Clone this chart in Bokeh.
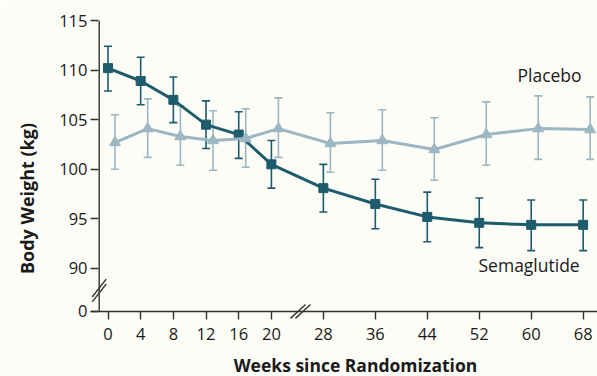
from bokeh.plotting import figure
from bokeh.models import (ColumnDataSource, Whisker, TeeHead, FixedTicker, Label,
                          Range1d)
from bokeh.embed import file_html
from bokeh.resources import INLINE

# ---------------- data ----------------
weeks = [0, 4, 8, 12, 16, 20, 28, 36, 44, 52, 60, 68]
sema_mean = [110.2, 108.9, 107.0, 104.5, 103.5, 100.5, 98.1, 96.5, 95.2, 94.6, 94.4, 94.4]
sema_upper = [112.4, 111.3, 109.3, 106.9, 105.8, 102.9, 100.5, 99.0, 97.7, 97.1, 96.9, 96.9]
sema_lower = [107.9, 106.5, 104.7, 102.1, 101.1, 98.1, 95.7, 94.0, 92.7, 92.1, 91.8, 91.8]
placebo_mean = [102.7, 104.1, 103.3, 102.9, 103.1, 104.1, 102.6, 102.9, 102.0, 103.5, 104.1, 104.0]
placebo_upper = [105.5, 107.1, 106.4, 105.9, 106.1, 107.2, 105.7, 106.0, 105.2, 106.8, 107.4, 107.3]
placebo_lower = [100.0, 101.2, 100.4, 99.9, 100.2, 101.2, 99.7, 99.9, 98.9, 100.4, 101.0, 101.0]
y_ticks = [90, 95, 100, 105, 110, 115]

SEMA_COLOR = "#1e5b6d"
PLAC_COLOR = "#9cb6c2"
BG = "#fdfdf7"
AXIS = "#333333"
TEXT = "#1a1a1a"
FONT = "Open Sans"

# broken x axis: after week 20 the scale is compressed
def axis_pos(w):
    return w if w <= 20 else 20 + (w - 20) * 0.795

DODGE = 0.857     # placebo points sit slightly to the right
Y_ZERO = 85.67    # position of the "0" tick below the y-axis break
X_AXIS = -1.077   # where the y-axis line is drawn
X_START, X_END = -2.142, 59.914
Y_START, Y_END = 79.11, 115

sema_src = ColumnDataSource(dict(
    x=[axis_pos(w) for w in weeks], y=sema_mean, upper=sema_upper, lower=sema_lower))
plac_src = ColumnDataSource(dict(
    x=[axis_pos(w) + DODGE for w in weeks], y=placebo_mean,
    upper=placebo_upper, lower=placebo_lower))

p = figure(width=597, height=376, output_backend="svg", toolbar_location=None,
           x_range=Range1d(X_START, X_END), y_range=Range1d(Y_START, Y_END),
           min_border_left=90, min_border_right=0, min_border_top=20,
           min_border_bottom=0)
p.background_fill_color = BG
p.border_fill_color = BG
p.outline_line_color = None
p.grid.visible = False

# x axis sits on the zero line, y-axis ticks point into the frame
p.xaxis.fixed_location = Y_ZERO
p.xaxis.ticker = FixedTicker(ticks=[axis_pos(w) for w in weeks])
p.xaxis.major_label_overrides = {axis_pos(w): str(w) for w in weeks}
p.xaxis.major_tick_in = 0
p.xaxis.major_tick_out = 8
p.yaxis.ticker = FixedTicker(ticks=[Y_ZERO] + y_ticks)
p.yaxis.major_label_overrides = {Y_ZERO: "0"}
p.yaxis.major_tick_in = 8
p.yaxis.major_tick_out = 0
for ax in (p.xaxis, p.yaxis):
    ax.axis_line_color = None
    ax.major_tick_line_color = AXIS
    ax.major_tick_line_width = 1.4
    ax.minor_tick_line_color = None
    ax.major_label_text_font = FONT
    ax.major_label_text_font_size = "16.5px"
    ax.major_label_text_color = TEXT
p.xaxis.major_label_standoff = 9
p.yaxis.major_label_standoff = 3
p.yaxis.axis_label = "Body Weight (kg)"
p.yaxis.axis_label_text_font = FONT
p.yaxis.axis_label_text_font_style = "bold"
p.yaxis.axis_label_text_font_size = "18px"
p.yaxis.axis_label_text_color = TEXT
p.yaxis.axis_label_standoff = 17

p.add_layout(Label(x=30.29, y=80.27, text="Weeks since Randomization",
                   text_align="center", text_baseline="alphabetic", text_font=FONT,
                   text_font_style="bold", text_font_size="17.5px", text_color=TEXT))

# axis lines
p.segment(x0=[X_AXIS, X_START], y0=[Y_ZERO, Y_ZERO], x1=[X_AXIS, X_END],
          y1=[Y_END, Y_ZERO], line_color=AXIS, line_width=1.4)

# axis break marks
p.segment(x0=[X_AXIS - 0.86, X_AXIS - 0.86], y0=[87.78 - 0.9 - 0.25, 87.78 - 0.9 + 0.25],
          x1=[X_AXIS + 0.86, X_AXIS + 0.86], y1=[87.78 + 0.9 - 0.25, 87.78 + 0.9 + 0.25],
          line_color=AXIS, line_width=1.4)
p.segment(x0=[23.56 - 0.92 - 0.3, 23.56 - 0.92 + 0.3], y0=[Y_ZERO - 0.7, Y_ZERO - 0.7],
          x1=[23.56 + 0.92 - 0.3, 23.56 + 0.92 + 0.3], y1=[Y_ZERO + 0.7, Y_ZERO + 0.7],
          line_color=AXIS, line_width=1.4)

# error bars
for src, col in ((sema_src, SEMA_COLOR), (plac_src, PLAC_COLOR)):
    p.add_layout(Whisker(source=src, base="x", upper="upper", lower="lower",
                         line_color=col, line_width=1.6,
                         upper_head=TeeHead(size=8, line_color=col, line_width=1.6),
                         lower_head=TeeHead(size=8, line_color=col, line_width=1.6)))

# series
p.line("x", "y", source=sema_src, line_color=SEMA_COLOR, line_width=3)
p.scatter("x", "y", source=sema_src, marker="square", size=9,
          fill_color=SEMA_COLOR, line_color=SEMA_COLOR)
p.line("x", "y", source=plac_src, line_color=PLAC_COLOR, line_width=3)
p.scatter("x", "y", source=plac_src, marker="triangle", size=11,
          fill_color=PLAC_COLOR, line_color=PLAC_COLOR)

# series labels
p.add_layout(Label(x=50.12, y=109.53, text="Placebo", text_font=FONT,
                   text_font_size="17.5px", text_color=TEXT,
                   text_baseline="alphabetic"))
p.add_layout(Label(x=45.35, y=90.35, text="Semaglutide", text_font=FONT,
                   text_font_size="17.5px", text_color=TEXT,
                   text_baseline="alphabetic"))

open("out.html", "w").write(file_html(p, INLINE))
